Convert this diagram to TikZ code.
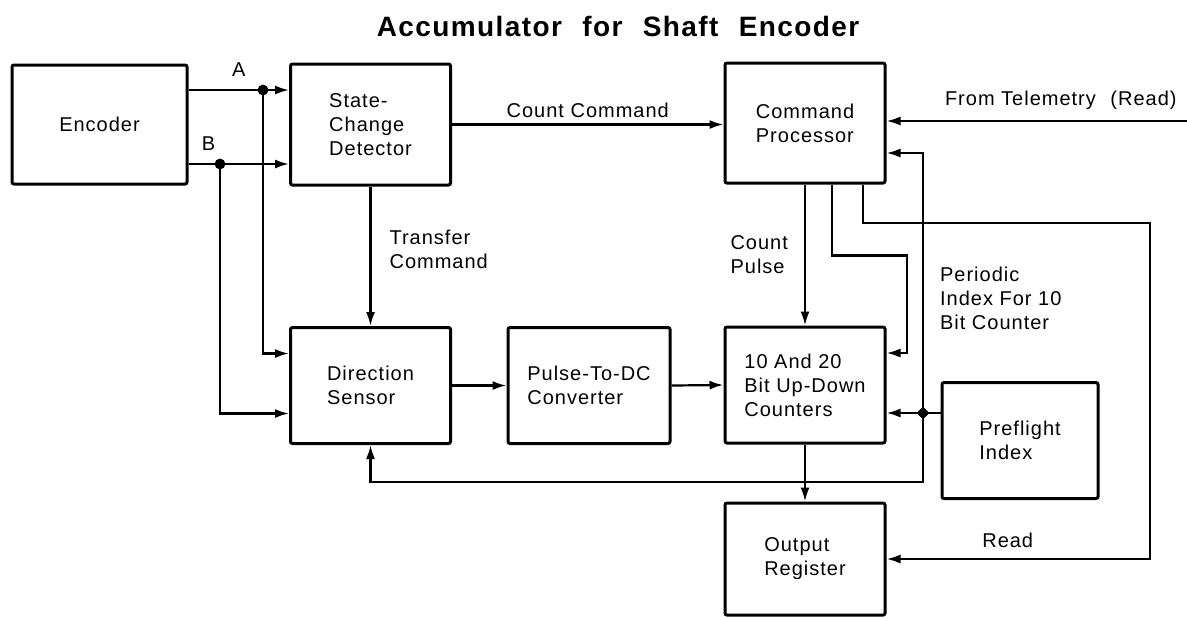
\documentclass[tikz,border=0pt]{standalone}
\usepackage{fontspec}
\setmainfont{Liberation Sans}[LetterSpace=5]
\usepackage{tikz}
\usetikzlibrary{arrows.meta, positioning, shapes.geometric}

\begin{document}
\begin{tikzpicture}[
  x=0.5pt, y=-0.5pt,
  font=\fontsize{10}{12}\selectfont,
  every node/.style={align=left},
  blk/.style={draw, line width=1.5pt, rounded corners=1pt, minimum width=80pt,
              minimum height=58pt, inner sep=3pt},
  arr/.style={-{Latex[length=7pt,width=4.5pt]}, line width=1.1pt},
  wire/.style={line width=1.1pt},
  lab/.style={inner sep=1pt},
  jdia/.style={diamond, fill, inner sep=0pt, minimum size=6.5pt}
]
\useasboundingbox (0,0) rectangle (1187,617);
\node[font=\fontsize{14}{16}\bfseries] (title) at (618,26)
  {Accumulator\hspace{0.4em} for\hspace{0.4em} Shaft\hspace{0.4em} Encoder};

\node[blk, minimum width=87.5pt, minimum height=59.5pt] (enc) at (99.5,124.5) {Encoder};
\node[blk, minimum height=60.5pt] (scd) at (370.5,124.5) {State-\\Change\\Detector};
\node[blk, minimum height=60pt] (cmd) at (805,123) {Command\\Processor};
\node[blk] (dir) at (370.5,385.5) {Direction\\Sensor};
\node[blk, minimum width=81pt] (pdc) at (589,385.5) {Pulse-To-DC\\Converter};
\node[blk] (cnt) at (805,385) {10 And 20\\Bit Up-Down\\Counters};
\node[blk, minimum width=78pt] (pre) at (1020,440.5) {Preflight\\Index};
\node[blk, minimum height=56pt] (out) at (805,559) {Output\\Register};

\coordinate (ja) at (263,90);
\coordinate (jb) at (220,164);
\coordinate (jp) at (923,413);
\coordinate (jd) at (923,482);
\coordinate (tel) at (1187,121);
\coordinate (rd) at (1150,223);

% encoder phases A and B
\draw[arr] (enc.east |- ja) -- (scd.west |- ja)
  node[midway,above=5pt,lab] {A};
\draw[arr] (enc.east |- jb) -- (scd.west |- jb)
  node[pos=0.2,above=5pt,lab] {B};
\draw[arr] (ja) |- ([yshift=16pt]dir.west);
\draw[arr] (jb) |- ([yshift=-14pt]dir.west);
\fill (ja) circle (2.7pt);
\fill (jb) circle (2.7pt);

\draw[arr] (scd.south) -- (dir.north)
  node[pos=0.45,right=8pt,lab] {Transfer\\Command};
\draw[arr] (scd.east) -- (cmd.west |- scd.east)
  node[midway,above=2pt,lab] {Count Command};
\draw[arr] (tel) -- (cmd.east |- tel)
  node[pos=0.42,above=4pt,lab] {From Telemetry\hspace{0.4em} (Read)};
\draw[arr] (dir.east) -- (pdc.west);
\draw[arr] (pdc.east) -- (cnt.west);

% command processor outputs
\draw[arr] (cmd.south) -- (cnt.north)
  node[midway,left=7pt,lab] {Count\\Pulse};
\draw[arr] ([xshift=13.5pt]cmd.south) -- ++(0,71) -- ++(75,0)
  |- ([yshift=16pt]cnt.east);
\draw[arr] ([xshift=29pt]cmd.south) |- (rd) |- (out.east)
  node[pos=0.77,above=4pt,lab] {Read};

% preflight index
\draw[wire] (pre.west |- jp) -- (jp);
\draw[arr] (jp) -- (cnt.east |- jp);
\draw[arr] (jp) |- ([yshift=-15pt]cmd.east)
  node[pos=0.22,right=7pt,lab] {Periodic\\Index For 10\\Bit Counter};
\draw[arr] (jp) -- (jd) -| (dir.south);
\node[jdia] at (jp) {};

\draw[arr] (cnt.south) -- (out.north);
\end{tikzpicture}
\end{document}
